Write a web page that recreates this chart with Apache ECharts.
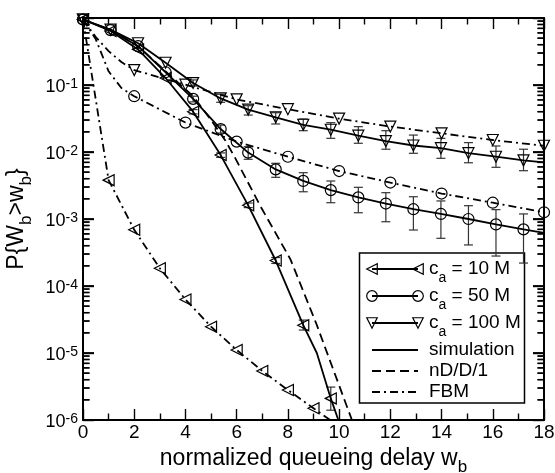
<!DOCTYPE html>
<html>
<head>
<meta charset="utf-8">
<script src="https://cdn.jsdelivr.net/npm/echarts@6/dist/echarts.min.js"></script>
<style>
  html, body { margin: 0; padding: 0; background: #fff; }
  #chart { width: 555px; height: 473px; }
</style>
</head>
<body>
<div id="chart"></div>
<script>
// Normalized queueing delay w_b at which the simulation estimates are marked
const wSim = [0, 1.075, 2.15, 3.225, 4.3, 5.375, 6.45, 7.525, 8.6, 9.675, 10.75, 11.825, 12.9, 13.975, 15.05, 16.125, 17.2];

// Simulation, c_a = 10 M
const sim10 = [0.95, 0.64, 0.34, 0.127, 0.04, 0.009, 0.0016, 2.4e-4, 2.6e-5, 2.1e-6];
const sim10Lo = [null, null, null, null, 0.037, 0.0083, 0.00148, 2.17e-4, 2.2e-5, 1.4e-6];
const sim10Hi = [null, null, null, null, 0.043, 0.0097, 0.00173, 2.66e-4, 3.1e-5, 3.1e-6];
const sim10ExtraW = [9.13, 9.97];
const sim10ExtraP = [1.0e-5, 1.0e-6];

// Simulation, c_a = 50 M
const sim50 = [0.95, 0.66, 0.38, 0.155, 0.062, 0.022, 0.0098, 0.0055, 0.0037, 0.0027, 0.0021, 0.0017, 0.0014, 0.00119, 0.001, 0.00083, 0.0007];
const sim50Lo = [null, null, null, null, 0.056, 0.0192, 0.00778, 0.00419, 0.00255, 0.00175, 0.00124, 0.00091, 0.000685, 0.000515, 0.00041, 0.00028, 0.00022];
const sim50Hi = [null, null, null, null, 0.068, 0.0252, 0.012, 0.00678, 0.00491, 0.00369, 0.00297, 0.00247, 0.00215, 0.00186, 0.00158, 0.00138, 0.00119];
const sim50ExtraW = [18];
const sim50ExtraP = [0.00062];

// Simulation, c_a = 100 M
const sim100 = [0.95, 0.67, 0.42, 0.215, 0.107, 0.063, 0.043, 0.033, 0.0255, 0.0215, 0.0175, 0.0145, 0.0125, 0.0114, 0.0096, 0.0085, 0.0075];
const sim100Lo = [null, null, null, null, 0.0966, 0.0552, 0.0356, 0.0262, 0.0208, 0.016, 0.0135, 0.011, 0.00957, 0.00805, 0.00691, 0.00591, 0.00526];
const sim100Hi = [null, null, null, null, 0.119, 0.0727, 0.0491, 0.0386, 0.0311, 0.0274, 0.0239, 0.0208, 0.0179, 0.016, 0.0138, 0.0123, 0.011];
const sim100ExtraW = [18];
const sim100ExtraP = [0.007];

// FBM approximation
const wFbm10 = [0, 1, 2, 3, 4, 5, 6, 7, 8, 9];
const fbm10 = [0.95, 0.0038, 6.9e-4, 1.84e-4, 6.3e-5, 2.47e-5, 1.11e-5, 5.4e-6, 2.8e-6, 1.5e-6];
const fbm10ExtraW = [9.65];
const fbm10ExtraP = [1.0e-6];

const wFbm = [0, 2, 4, 6, 8, 10, 12, 14, 16, 18];
const fbm50 = [0.95, 0.068, 0.0275, 0.0143, 0.0085, 0.0052, 0.0035, 0.0024, 0.00175, 0.00126];
const fbm50ExtraW = [0.5, 1, 1.5];
const fbm50ExtraP = [0.48, 0.16, 0.09];
const fbm100 = [0.95, 0.167, 0.101, 0.061, 0.0435, 0.0315, 0.024, 0.019, 0.0151, 0.0124];
const fbm100ExtraW = [0.5, 1, 1.5];
const fbm100ExtraP = [0.52, 0.32, 0.22];

// nD/D/1 queue
const wNdd1 = [0, 1.075, 2.15, 3.225, 4.3, 5.0, 5.55, 5.9, 6.95, 8.1, 9.1, 10.5];
const ndd1 = [0.95, 0.66, 0.38, 0.16, 0.068, 0.03, 0.015, 0.0087, 0.0015, 2.5e-4, 2.8e-5, 1.0e-6];

// Legend labels
const legendCa = ['10 M', '50 M', '100 M'];
const legendModels = ['simulation', 'nD/D/1', 'FBM'];

const X_MIN = 0, X_MAX = 18;
const P_MIN = 1e-6, P_MAX = 1;
const FONT = 'Liberation Sans, Arial, Helvetica, sans-serif';
const DASHED = [9, 5];
const DASH_DOT = [8, 4, 2, 4];

// marked points plus unmarked line points, sorted along w
function lineData(wMarked, pMarked, wExtra, pExtra) {
  const pts = pMarked.map((p, i) => ({ value: [wMarked[i], p] }));
  wExtra.forEach((w, i) => pts.push({ value: [w, pExtra[i]], symbol: 'none' }));
  pts.sort((a, b) => a.value[0] - b.value[0]);
  return pts;
}

function errData(w, lo, hi) {
  const out = [];
  lo.forEach((l, i) => { if (l != null) out.push([w[i], l, hi[i]]); });
  return out;
}

function curve(name, data, dash, symbol, rotate) {
  return {
    name, type: 'line', data, clip: true,
    symbol: symbol || 'none', symbolSize: 11, symbolRotate: rotate || 0,
    showAllSymbol: true,
    lineStyle: { color: '#000', width: 1.8, type: dash || 'solid' },
    itemStyle: { color: 'transparent', borderColor: '#000', borderWidth: 1.2 },
    z: 3
  };
}

function errorBars(data) {
  return {
    type: 'custom', data, silent: true, z: 2,
    encode: { x: 0, y: [1, 2] },
    renderItem(params, api) {
      const top = api.coord([api.value(0), api.value(2)]);
      const bot = api.coord([api.value(0), api.value(1)]);
      const c = 4.5;
      return {
        type: 'group', children: [
          { type: 'line', shape: { x1: top[0], y1: top[1], x2: bot[0], y2: bot[1] }, style: { stroke: '#333', lineWidth: 1.2 } },
          { type: 'line', shape: { x1: top[0] - c, y1: top[1], x2: top[0] + c, y2: top[1] }, style: { stroke: '#333', lineWidth: 1.2 } },
          { type: 'line', shape: { x1: bot[0] - c, y1: bot[1], x2: bot[0] + c, y2: bot[1] }, style: { stroke: '#333', lineWidth: 1.2 } }
        ]
      };
    }
  };
}

// log-axis tick values: [w at the left frame, P, tick length]
const logTicks = [];
for (let e = -6; e <= 0; e++) {
  logTicks.push([X_MIN, Math.pow(10, e), 11]);
  if (e < 0) for (let m = 2; m <= 9; m++) logTicks.push([X_MIN, m * Math.pow(10, e), 6.5]);
}
// ticks on both frame sides, drawn through the axis scales
const logTickSeries = {
  type: 'custom', data: logTicks, silent: true, z: 6,
  encode: { x: 0, y: 1 },
  renderItem(params, api) {
    const len = api.value(2);
    const left = api.coord([X_MIN, api.value(1)]);
    const right = api.coord([X_MAX, api.value(1)]);
    return {
      type: 'group', children: [
        { type: 'line', shape: { x1: left[0], y1: left[1], x2: left[0] + len, y2: left[1] }, style: { stroke: '#000', lineWidth: 1.4 } },
        { type: 'line', shape: { x1: right[0] - len, y1: right[1], x2: right[0], y2: right[1] }, style: { stroke: '#000', lineWidth: 1.4 } }
      ]
    };
  }
};

const axisLineStyle = { onZero: false, lineStyle: { color: '#000', width: 2 } };
const majorTick = { show: true, inside: true, length: 11, lineStyle: { color: '#000', width: 1.4 } };
const xMinorTick = { show: true, splitNumber: 2, length: 6.5, lineStyle: { color: '#000', width: 1.4 } };

// Legend drawn as a boxed key with line samples and symbols
function triPoints(cx, cy, s, dir) {
  const h = s / 2;
  if (dir === 'left') return [[cx - h, cy], [cx + h, cy - h], [cx + h, cy + h]];
  return [[cx - h, cy - h], [cx + h, cy - h], [cx, cy + h]];
}
const legendChildren = [
  { type: 'rect', shape: { x: 359.5, y: 253, width: 165, height: 150 },
    style: { fill: '#fff', stroke: '#000', lineWidth: 1.5 } }
];
const rowY = [269, 296, 323, 350, 371, 392];
const lx1 = 372, lx2 = 418;
for (let i = 0; i < 3; i++) {
  const y = rowY[i];
  legendChildren.push({ type: 'line', shape: { x1: lx1, y1: y, x2: lx2, y2: y }, style: { stroke: '#000', lineWidth: 1.8 } });
  [lx1, lx2].forEach(cx => {
    const mk = { fill: 'none', stroke: '#000', lineWidth: 1.2 };
    if (i === 1) legendChildren.push({ type: 'circle', shape: { cx, cy: y, r: 5.3 }, style: mk });
    else legendChildren.push({ type: 'polygon', shape: { points: triPoints(cx, y, 10.5, i === 0 ? 'left' : 'down') }, style: mk });
  });
  legendChildren.push({ type: 'text', x: 429, y,
    style: { text: 'c{s|a} = ' + legendCa[i], fontSize: 19, fontFamily: FONT, fill: '#000', verticalAlign: 'middle',
      rich: { s: { fontSize: 14, fontFamily: FONT, color: '#000', padding: [19, 0, 0, 0] } } } });
}
[['solid'], [DASHED], [DASH_DOT]].forEach((d, j) => {
  const y = rowY[3 + j];
  legendChildren.push({ type: 'line', shape: { x1: lx1, y1: y, x2: lx2, y2: y },
    style: { stroke: '#000', lineWidth: 1.8, lineDash: d[0] === 'solid' ? null : d[0] } });
  legendChildren.push({ type: 'text', x: 429, y,
    style: { text: legendModels[j], fontSize: 19, fontFamily: FONT, fill: '#000', verticalAlign: 'middle' } });
});

const subTitleRich = {
  s: { fontSize: 17, fontFamily: FONT, color: '#000', padding: [18, 0, 0, 0] }
};

const chart = echarts.init(document.getElementById('chart'), null, { renderer: 'canvas' });
chart.setOption({
  animation: false,
  grid: { left: 83, top: 18, right: 11, bottom: 53, show: false, containLabel: false, outerBoundsMode: 'none' },
  xAxis: [
    {
      type: 'value', min: X_MIN, max: X_MAX, interval: 2, position: 'bottom',
      axisLine: axisLineStyle, axisTick: majorTick, minorTick: xMinorTick, splitLine: { show: false },
      axisLabel: { fontSize: 19, fontFamily: FONT, color: '#000', margin: 3, showMinLabel: true, showMaxLabel: true },
      name: 'normalized queueing delay w{s|b}', nameLocation: 'middle', nameGap: 18,
      nameTextStyle: { fontSize: 23, fontFamily: FONT, color: '#000', rich: subTitleRich }
    },
    {
      type: 'value', min: X_MIN, max: X_MAX, interval: 2, position: 'top',
      axisLine: axisLineStyle, axisTick: majorTick, minorTick: xMinorTick, splitLine: { show: false },
      axisLabel: { show: false }
    }
  ],
  yAxis: [
    {
      type: 'log', logBase: 10, min: P_MIN, max: P_MAX, position: 'left',
      axisLine: axisLineStyle, axisTick: majorTick, splitLine: { show: false },
      axisLabel: {
        fontFamily: FONT, color: '#000', margin: 5,
        formatter: v => {
          const e = Math.round(Math.log10(v));
          return e === 0 ? '' : '{b|10}{s|' + e + '}';
        },
        rich: {
          b: { fontSize: 18, fontFamily: FONT, color: '#000', padding: [5, 0, 0, 0] },
          s: { fontSize: 14, fontFamily: FONT, color: '#000', padding: [0, 0, 1, 0] }
        }
      },
      name: 'P{W{s|b}>w{s|b}}', nameLocation: 'middle', nameGap: 46,
      nameTextStyle: { fontSize: 23, fontFamily: FONT, color: '#000', rich: subTitleRich }
    },
    {
      type: 'log', logBase: 10, min: P_MIN, max: P_MAX, position: 'right',
      axisLine: axisLineStyle, axisTick: majorTick, splitLine: { show: false }, axisLabel: { show: false }
    }
  ],
  series: [
    errorBars(errData(wSim, sim10Lo, sim10Hi)),
    errorBars(errData(wSim, sim50Lo, sim50Hi)),
    errorBars(errData(wSim, sim100Lo, sim100Hi)),
    curve('nD/D/1', wNdd1.map((w, i) => [w, ndd1[i]]), DASHED),
    curve('FBM 10 M', lineData(wFbm10, fbm10, fbm10ExtraW, fbm10ExtraP), DASH_DOT, 'triangle', 90),
    curve('FBM 50 M', lineData(wFbm, fbm50, fbm50ExtraW, fbm50ExtraP), DASH_DOT, 'circle', 0),
    curve('FBM 100 M', lineData(wFbm, fbm100, fbm100ExtraW, fbm100ExtraP), DASH_DOT, 'triangle', 180),
    curve('sim 10 M', lineData(wSim, sim10, sim10ExtraW, sim10ExtraP), 'solid', 'triangle', 90),
    curve('sim 50 M', lineData(wSim, sim50, sim50ExtraW, sim50ExtraP), 'solid', 'circle', 0),
    curve('sim 100 M', lineData(wSim, sim100, sim100ExtraW, sim100ExtraP), 'solid', 'triangle', 180),
    logTickSeries
  ]
});

// the same log ticks once more as frame decorations, positioned through the axis conversion
const tickChildren = [];
const xLeft = chart.convertToPixel({ xAxisIndex: 0 }, X_MIN);
const xRight = chart.convertToPixel({ xAxisIndex: 0 }, X_MAX);
logTicks.forEach(([w, p, len]) => {
  const y = chart.convertToPixel({ yAxisIndex: 0 }, p);
  if (!isFinite(y) || !isFinite(xLeft) || !isFinite(xRight)) return;
  tickChildren.push({ type: 'line', shape: { x1: xLeft, y1: y, x2: xLeft + len, y2: y }, style: { stroke: '#000', lineWidth: 1.4 } });
  tickChildren.push({ type: 'line', shape: { x1: xRight - len, y1: y, x2: xRight, y2: y }, style: { stroke: '#000', lineWidth: 1.4 } });
});

chart.setOption({
  graphic: [
    { id: 'yTicks', type: 'group', z: 90, silent: true, children: tickChildren },
    { id: 'legend', type: 'group', z: 100, children: legendChildren }
  ]
});
</script>
</body>
</html>
